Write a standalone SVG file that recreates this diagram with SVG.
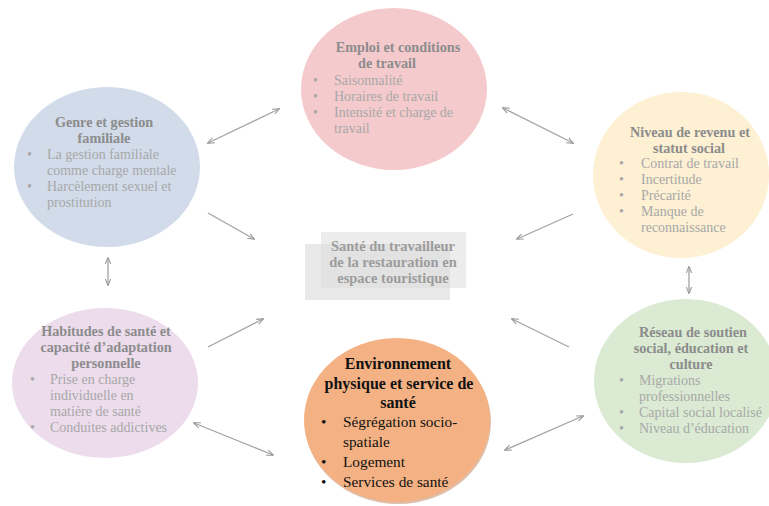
<svg xmlns="http://www.w3.org/2000/svg" width="769" height="506" viewBox="0 0 769 506">
<style>
.t{font-family:"Liberation Serif","Times New Roman",serif;font-size:14.2px;font-weight:bold;fill:#8c8c8c}
.i{font-family:"Liberation Serif","Times New Roman",serif;font-size:14px;fill:#a8a8a8}
.ot{font-family:"Liberation Serif","Times New Roman",serif;font-size:16px;font-weight:bold;fill:#111}
.oi{font-family:"Liberation Serif","Times New Roman",serif;font-size:15.3px;fill:#111}
.c{font-family:"Liberation Serif","Times New Roman",serif;font-size:14.5px;font-weight:bold;fill:#9c9c9c}
.ln{stroke:#a3a3a3;stroke-width:1.3;fill:none}
</style>
<defs>
<marker id="ah" viewBox="0 0 10 10" refX="9" refY="5" markerWidth="7" markerHeight="7" orient="auto-start-reverse" markerUnits="userSpaceOnUse">
<path d="M0,1 L10,5 L0,9" fill="none" stroke="#999" stroke-width="1.5"/>
</marker>
</defs>
<rect width="769" height="506" fill="#fff"/>

<g id="connectors">
<line class="ln" x1="208" y1="143" x2="279" y2="109" marker-start="url(#ah)" marker-end="url(#ah)"/>
<line class="ln" x1="503" y1="108" x2="573" y2="143" marker-start="url(#ah)" marker-end="url(#ah)"/>
<line class="ln" x1="208" y1="213" x2="254" y2="239" marker-end="url(#ah)"/>
<line class="ln" x1="573" y1="214" x2="517" y2="239" marker-end="url(#ah)"/>
<line class="ln" x1="208" y1="347" x2="263" y2="319" marker-end="url(#ah)"/>
<line class="ln" x1="569" y1="347" x2="512" y2="319" marker-end="url(#ah)"/>
<line class="ln" x1="194" y1="423" x2="273" y2="455" marker-start="url(#ah)" marker-end="url(#ah)"/>
<line class="ln" x1="505" y1="450" x2="583" y2="416" marker-start="url(#ah)" marker-end="url(#ah)"/>
<line class="ln" x1="108" y1="258" x2="108" y2="285" marker-start="url(#ah)" marker-end="url(#ah)"/>
<line class="ln" x1="689" y1="267" x2="689" y2="293" marker-start="url(#ah)" marker-end="url(#ah)"/>
</g>

<g id="center">
<rect x="305" y="244" width="145" height="56" fill="#e9e9e9"/>
<rect x="321" y="232" width="145" height="56" fill="#dcdcdc" fill-opacity="0.55"/>
<text class="c" x="393" y="251" text-anchor="middle">Santé du travailleur</text>
<text class="c" x="393" y="267" text-anchor="middle">de la restauration en</text>
<text class="c" x="393" y="283" text-anchor="middle">espace touristique</text>
</g>

<g id="emploi">
<ellipse cx="394" cy="89" rx="93" ry="81" fill="#f5cacc"/>
<text class="t" x="398" y="52" text-anchor="middle">Emploi et conditions</text>
<text class="t" x="387" y="68" text-anchor="middle">de travail</text>
<text class="i" x="313" y="85">•</text><text class="i" x="334" y="85">Saisonnalité</text>
<text class="i" x="313" y="101">•</text><text class="i" x="334" y="101">Horaires de travail</text>
<text class="i" x="313" y="117">•</text><text class="i" x="334" y="117">Intensité et charge de</text>
<text class="i" x="334" y="133">travail</text>
</g>

<g id="genre">
<ellipse cx="107" cy="167" rx="93" ry="80" fill="#d1dbea"/>
<text class="t" x="104" y="127" text-anchor="middle">Genre et gestion</text>
<text class="t" x="104" y="143" text-anchor="middle">familiale</text>
<text class="i" x="27" y="159">•</text><text class="i" x="47" y="159">La gestion familiale</text>
<text class="i" x="47" y="175">comme charge mentale</text>
<text class="i" x="27" y="191">•</text><text class="i" x="47" y="191">Harcèlement sexuel et</text>
<text class="i" x="47" y="207">prostitution</text>
</g>

<g id="revenu">
<ellipse cx="681" cy="175" rx="88" ry="83" fill="#fdf0d3"/>
<text class="t" x="690" y="137" text-anchor="middle">Niveau de revenu et</text>
<text class="t" x="689" y="153" text-anchor="middle">statut social</text>
<text class="i" x="619" y="168">•</text><text class="i" x="641" y="168">Contrat de travail</text>
<text class="i" x="619" y="184">•</text><text class="i" x="641" y="184">Incertitude</text>
<text class="i" x="619" y="200">•</text><text class="i" x="641" y="200">Précarité</text>
<text class="i" x="619" y="216">•</text><text class="i" x="641" y="216">Manque de</text>
<text class="i" x="641" y="232">reconnaissance</text>
</g>

<g id="habitudes">
<ellipse cx="105" cy="383" rx="93" ry="75" fill="#ecdcec"/>
<text class="t" x="106" y="336" text-anchor="middle">Habitudes de santé et</text>
<text class="t" x="106" y="352" text-anchor="middle">capacité d’adaptation</text>
<text class="t" x="106" y="368" text-anchor="middle">personnelle</text>
<text class="i" x="30" y="384">•</text><text class="i" x="50" y="384">Prise en charge</text>
<text class="i" x="50" y="400">individuelle en</text>
<text class="i" x="50" y="416">matière de santé</text>
<text class="i" x="30" y="432">•</text><text class="i" x="50" y="432">Conduites addictives</text>
</g>

<g id="environnement">
<ellipse cx="398" cy="422" rx="93" ry="82" fill="#c89474" opacity="0.6"/>
<ellipse cx="397" cy="420" rx="93" ry="82" fill="#f4b183"/>
<text class="ot" x="398" y="369" text-anchor="middle">Environnement</text>
<text class="ot" x="399" y="389" text-anchor="middle">physique et service de</text>
<text class="ot" x="398" y="408" text-anchor="middle">santé</text>
<text class="oi" x="321" y="427">•</text><text class="oi" x="343" y="427">Ségrégation socio-</text>
<text class="oi" x="343" y="447">spatiale</text>
<text class="oi" x="321" y="467">•</text><text class="oi" x="343" y="467">Logement</text>
<text class="oi" x="321" y="487">•</text><text class="oi" x="343" y="487">Services de santé</text>
</g>

<g id="reseau">
<ellipse cx="686" cy="381" rx="92" ry="82" fill="#dbead3"/>
<text class="t" x="693" y="337" text-anchor="middle">Réseau de soutien</text>
<text class="t" x="691" y="353" text-anchor="middle">social, éducation et</text>
<text class="t" x="691" y="369" text-anchor="middle">culture</text>
<text class="i" x="619" y="385">•</text><text class="i" x="639" y="385">Migrations</text>
<text class="i" x="639" y="401">professionnelles</text>
<text class="i" x="619" y="417">•</text><text class="i" x="639" y="417">Capital social localisé</text>
<text class="i" x="619" y="433">•</text><text class="i" x="639" y="433">Niveau d’éducation</text>
</g>
</svg>
